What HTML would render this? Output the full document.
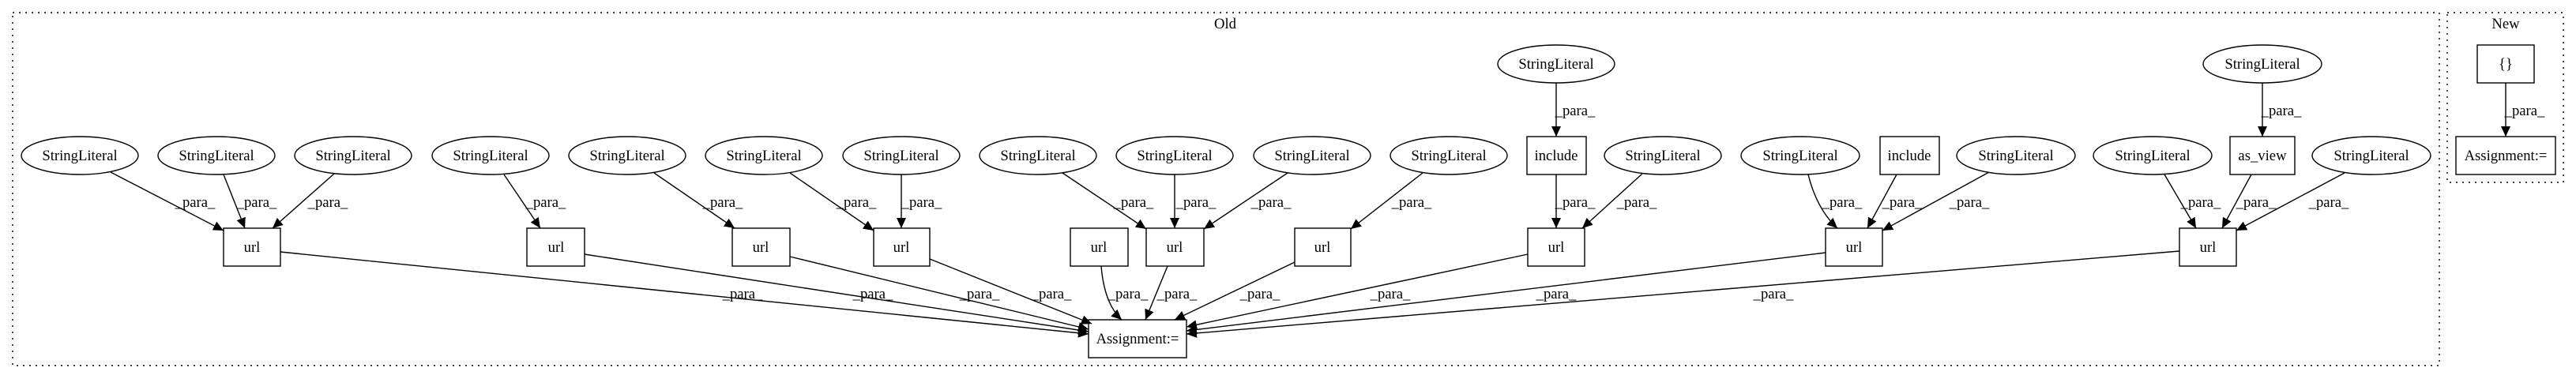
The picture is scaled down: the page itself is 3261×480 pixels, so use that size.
<!DOCTYPE html>
<html><head><meta charset="utf-8"><style>
html,body{margin:0;padding:0;background:#fff;}
svg{display:block;}
text{font-family:"Liberation Serif",serif;font-size:18.67px;fill:#000;}
</style></head><body>
<svg width="3261" height="480" viewBox="0 0 3261 480" xmlns="http://www.w3.org/2000/svg">
<defs>
<marker id="a" markerUnits="userSpaceOnUse" markerWidth="14" markerHeight="12" refX="13" refY="6" orient="auto">
<polygon points="0,0 13,6 0,12" fill="#000"/>
</marker>
</defs>
<g fill="none" stroke="#000" stroke-width="1.4" stroke-dasharray="2,6">
<rect x="16" y="16" width="3072" height="447"/>
<rect x="3098" y="16" width="147" height="215"/>
</g>
<text x="1551" y="36" text-anchor="middle">Old</text>
<text x="3172" y="36" text-anchor="middle">New</text>
<g fill="#fff" stroke="#000" stroke-width="1.4">
<ellipse cx="101" cy="197" rx="74" ry="24"/>
<ellipse cx="274" cy="197" rx="74" ry="24"/>
<ellipse cx="447" cy="197" rx="74" ry="24"/>
<ellipse cx="621" cy="197" rx="74" ry="24"/>
<ellipse cx="794" cy="197" rx="74" ry="24"/>
<ellipse cx="967" cy="197" rx="74" ry="24"/>
<ellipse cx="1141" cy="197" rx="74" ry="24"/>
<ellipse cx="1314" cy="197" rx="74" ry="24"/>
<ellipse cx="1487" cy="197" rx="74" ry="24"/>
<ellipse cx="1661" cy="197" rx="74" ry="24"/>
<ellipse cx="1834" cy="197" rx="74" ry="24"/>
<ellipse cx="2105" cy="197" rx="74" ry="24"/>
<ellipse cx="1970" cy="81" rx="74" ry="24"/>
<ellipse cx="2279" cy="197" rx="75" ry="24"/>
<ellipse cx="2552" cy="197" rx="75" ry="24"/>
<ellipse cx="2725" cy="197" rx="75" ry="24"/>
<ellipse cx="3002" cy="197" rx="75" ry="24"/>
<ellipse cx="2864" cy="81" rx="75" ry="24"/>
<rect x="1933" y="173" width="75" height="48"/>
<rect x="2380" y="173" width="75" height="48"/>
<rect x="2823" y="173" width="82" height="48"/>
<rect x="283" y="289" width="72" height="48"/>
<rect x="667" y="289" width="73" height="48"/>
<rect x="927" y="289" width="73" height="48"/>
<rect x="1106" y="289" width="71" height="48"/>
<rect x="1355" y="289" width="73" height="48"/>
<rect x="1451" y="289" width="73" height="48"/>
<rect x="1639" y="289" width="71" height="48"/>
<rect x="1934" y="289" width="72" height="48"/>
<rect x="2311" y="289" width="72" height="48"/>
<rect x="2759" y="289" width="72" height="48"/>
<rect x="1378" y="405" width="124" height="48"/>
<rect x="3136" y="57" width="72" height="48"/>
<rect x="3109" y="173" width="126" height="48"/>
</g>
<g text-anchor="middle">
<text x="101" y="203">StringLiteral</text><text x="274" y="203">StringLiteral</text><text x="447" y="203">StringLiteral</text>
<text x="621" y="203">StringLiteral</text><text x="794" y="203">StringLiteral</text><text x="967" y="203">StringLiteral</text>
<text x="1141" y="203">StringLiteral</text><text x="1314" y="203">StringLiteral</text><text x="1487" y="203">StringLiteral</text>
<text x="1661" y="203">StringLiteral</text><text x="1834" y="203">StringLiteral</text><text x="2105" y="203">StringLiteral</text>
<text x="1970" y="87">StringLiteral</text><text x="2279" y="203">StringLiteral</text><text x="2552" y="203">StringLiteral</text>
<text x="2725" y="203">StringLiteral</text><text x="3002" y="203">StringLiteral</text><text x="2864" y="87">StringLiteral</text>
<text x="1970" y="203">include</text><text x="2417" y="203">include</text><text x="2864" y="203">as_view</text>
<text x="319" y="319">url</text><text x="704" y="319">url</text><text x="963" y="319">url</text><text x="1141" y="319">url</text>
<text x="1391" y="319">url</text><text x="1487" y="319">url</text><text x="1674" y="319">url</text><text x="1970" y="319">url</text>
<text x="2347" y="319">url</text><text x="2795" y="319">url</text>
<text x="1440" y="435">Assignment:=</text>
<text x="3172" y="87">{}</text><text x="3172" y="203">Assignment:=</text>
</g>
<g stroke="#000" stroke-width="1.4" fill="none" marker-end="url(#a)">
<line x1="140" y1="218" x2="283" y2="292"/>
<line x1="283" y1="221" x2="310" y2="289"/>
<line x1="423" y1="220" x2="345" y2="289"/>
<line x1="638" y1="221" x2="684" y2="289"/>
<line x1="828" y1="219" x2="930" y2="289"/>
<line x1="1000" y1="219" x2="1106" y2="292"/>
<line x1="1141" y1="221" x2="1141" y2="289"/>
<line x1="1345" y1="219" x2="1451" y2="290"/>
<line x1="1487" y1="221" x2="1487" y2="289"/>
<line x1="1630" y1="219" x2="1524" y2="290"/>
<line x1="1801" y1="219" x2="1710" y2="290"/>
<line x1="1970" y1="105" x2="1970" y2="173"/>
<line x1="1970" y1="221" x2="1970" y2="289"/>
<line x1="2079" y1="220" x2="2003" y2="289"/>
<path d="M2289,221 Q2300,265 2326,289"/>
<line x1="2401" y1="221" x2="2364" y2="289"/>
<line x1="2518" y1="218" x2="2383" y2="292"/>
<line x1="2740" y1="221" x2="2780" y2="289"/>
<line x1="2850" y1="221" x2="2813" y2="289"/>
<line x1="2968" y1="219" x2="2831" y2="292"/>
<line x1="2864" y1="105" x2="2864" y2="173"/>
<line x1="3172" y1="105" x2="3172" y2="173"/>
<line x1="355" y1="319" x2="1378" y2="423"/>
<line x1="740" y1="322" x2="1378" y2="420"/>
<line x1="1000" y1="325" x2="1378" y2="417"/>
<line x1="1177" y1="328" x2="1382" y2="410"/>
<path d="M1394,337 Q1398,385 1420,405"/>
<line x1="1478" y1="337" x2="1450" y2="405"/>
<line x1="1639" y1="332" x2="1487" y2="405"/>
<line x1="1934" y1="322" x2="1502" y2="414"/>
<line x1="2311" y1="320" x2="1502" y2="419"/>
<line x1="2759" y1="318" x2="1502" y2="423"/>
</g>
<g text-anchor="middle">
<text x="247" y="262">_para_</text><text x="325" y="262">_para_</text><text x="415" y="262">_para_</text>
<text x="691" y="262">_para_</text><text x="915" y="262">_para_</text><text x="1084" y="262">_para_</text>
<text x="1167" y="262">_para_</text><text x="1435" y="262">_para_</text><text x="1514" y="262">_para_</text>
<text x="1609" y="262">_para_</text><text x="1787" y="262">_para_</text><text x="1994" y="146">_para_</text>
<text x="1994" y="262">_para_</text><text x="2072" y="262">_para_</text>
<text x="2332" y="262">_para_</text><text x="2408" y="262">_para_</text><text x="2493" y="262">_para_</text>
<text x="2786" y="262">_para_</text><text x="2856" y="262">_para_</text><text x="2948" y="262">_para_</text>
<text x="2888" y="146">_para_</text><text x="3196" y="146">_para_</text>
<text x="940" y="378">_para_</text><text x="1105" y="378">_para_</text><text x="1240" y="378">_para_</text>
<text x="1331" y="378">_para_</text><text x="1428" y="378">_para_</text><text x="1490" y="378">_para_</text>
<text x="1595" y="378">_para_</text><text x="1760" y="378">_para_</text><text x="1970" y="378">_para_</text>
<text x="2245" y="378">_para_</text>
</g>
</svg>
</body></html>
